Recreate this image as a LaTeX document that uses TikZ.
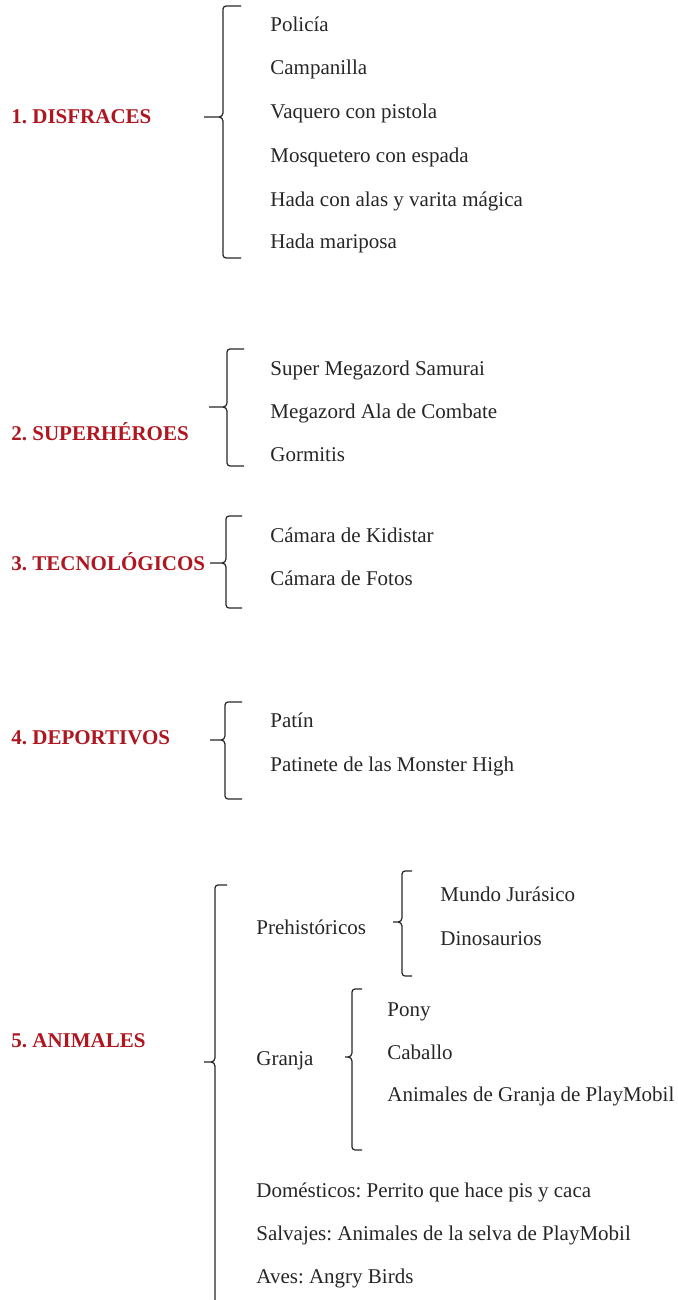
\documentclass[tikz,border=0pt]{standalone}
\usepackage{fontspec}
\setmainfont{Liberation Serif}
\definecolor{catred}{RGB}{175,22,32}
\frenchspacing

\begin{document}
\begin{tikzpicture}[x=0.5pt,y=-0.5pt]
\tikzstyle{every node}=[inner sep=0pt, font=\fontsize{10.5}{12}\selectfont, text=black!85]
\tikzstyle{cat}=[anchor=base west, font=\fontsize{10.5}{12}\selectfont\bfseries, text=catred]
\tikzstyle{item}=[anchor=base west]
\tikzset{pics/wbrace/.style n args={4}{code={
  \draw[line width=0.6pt, black!85]
    (#1+#4,-#2) -- (#1+3,-#2) to[out=180,in=90] (#1,-#2+3) -- (#1,-4)
    to[out=-90,in=0] (#1-4,0) -- (0,0) -- (#1-4,0) to[out=0,in=90] (#1,4)
    -- (#1,#3-3) to[out=-90,in=180] (#1+3,#3) -- (#1+#4,#3);
}}}
\useasboundingbox (0,0) rectangle (677,1300);

% 1
\node[cat] (disfraces) at (11,124) {1. DISFRACES};
\pic at (204,117) {wbrace={19}{111}{141}{18}};
\node[item] (policia) at (270,32) {Policía};
\node[item] (campanilla) at (270,75) {Campanilla};
\node[item] (vaquero) at (270,119) {Vaquero con pistola};
\node[item] (mosquetero) at (270,163) {Mosquetero con espada};
\node[item] (hadaalas) at (270,206) {Hada con alas y varita mágica};
\node[item] (hadamari) at (270,249) {Hada mariposa};

% 2
\node[cat] (superheroes) at (11,440) {2. SUPERHÉROES};
\pic at (209,407) {wbrace={18}{58}{59}{17}};
\node[item] (samurai) at (270,375) {Super Megazord Samurai};
\node[item] (combate) at (270,418) {Megazord Ala de Combate};
\node[item] (gormitis) at (270,461) {Gormitis};

% 3
\node[cat] (tecno) at (11,570) {3. TECNOLÓGICOS};
\pic at (210,563) {wbrace={16}{47}{45}{16}};
\node[item] (kidistar) at (270,542) {Cámara de Kidistar};
\node[item] (fotos) at (270,585) {Cámara de Fotos};

% 4
\node[cat] (deportivos) at (11,744) {4. DEPORTIVOS};
\pic at (210,740) {wbrace={15}{38}{59}{17}};
\node[item] (patin) at (270,727) {Patín};
\node[item] (patinete) at (270,771) {Patinete de las Monster High};

% 5
\node[cat] (animales) at (11,1047) {5. ANIMALES};
\pic at (204,1062) {wbrace={11}{177}{260}{12}};
\node[item] (prehist) at (256,934) {Prehistóricos};
\pic at (393,922) {wbrace={9}{51}{54}{10}};
\node[item] (jurasico) at (440,901) {Mundo Jurásico};
\node[item] (dinos) at (440,945) {Dinosaurios};
\node[item] (granja) at (256,1065) {Granja};
\pic at (345,1057) {wbrace={7}{68}{93}{10}};
\node[item] (pony) at (387,1016) {Pony};
\node[item] (caballo) at (387,1059) {Caballo};
\node[item] (playmobil) at (387,1101) {Animales de Granja de PlayMobil};
\node[item] (domesticos) at (256,1197) {Domésticos: Perrito que hace pis y caca};
\node[item] (salvajes) at (256,1240) {Salvajes: Animales de la selva de PlayMobil};
\node[item] (aves) at (256,1283) {Aves: Angry Birds};
\end{tikzpicture}
\end{document}
